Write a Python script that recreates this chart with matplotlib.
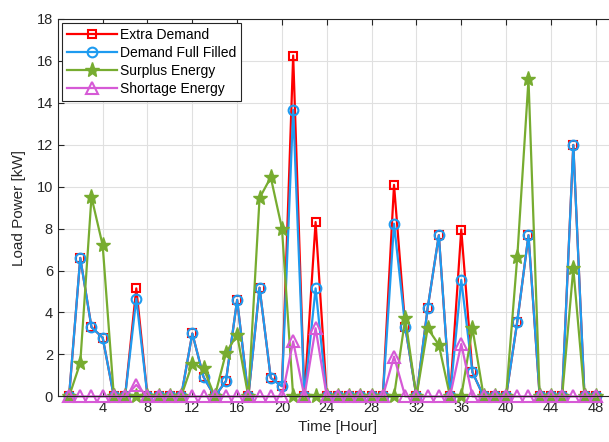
import numpy as np
import matplotlib
matplotlib.use("Agg")
import matplotlib.pyplot as plt

# ==========================================
# DATA
# ==========================================
hours = np.arange(1, 49)

extra_demand = [0, 6.6, 3.3, 2.8, 0, 0, 5.15, 0, 0, 0, 0, 3.0, 0.93, 0, 0.73, 4.6,
                0, 5.18, 0.88, 0.49, 16.24, 0, 8.31, 0, 0, 0, 0, 0, 0, 10.08, 3.33, 0,
                4.2, 7.68, 0, 7.95, 1.15, 0, 0, 0, 3.57, 7.68, 0, 0, 0, 11.98, 0, 0]
demand_filled = [0, 6.6, 3.3, 2.8, 0, 0, 4.66, 0, 0, 0, 0, 3.0, 0.93, 0, 0.73, 4.6,
                 0, 5.18, 0.88, 0.49, 13.65, 0, 5.15, 0, 0, 0, 0, 0, 0, 8.23, 3.33, 0,
                 4.2, 7.68, 0, 5.55, 1.15, 0, 0, 0, 3.57, 7.68, 0, 0, 0, 11.98, 0, 0]
surplus = [0, 1.6, 9.5, 7.2, 0, 0, 0, 0, 0, 0, 0, 1.56, 1.36, 0, 2.07, 2.94,
           0, 9.45, 10.44, 8.0, 0, 0, 0, 0, 0, 0, 0, 0, 0, 0, 3.73, 0,
           3.25, 2.46, 0, 0, 3.25, 0, 0, 0, 6.65, 15.1, 0, 0, 0, 6.1, 0, 0]
shortage = [0, 0, 0, 0, 0, 0, 0.55, 0, 0, 0, 0, 0, 0, 0, 0, 0,
            0, 0, 0, 0, 2.62, 0, 3.25, 0, 0, 0, 0, 0, 0, 1.9, 0, 0,
            0, 0, 0, 2.5, 0, 0, 0, 0, 0, 0, 0, 0, 0, 0, 0, 0]

x_ticks = list(range(4, 49, 4))
y_ticks = list(range(0, 19, 2))

# ==========================================
# PLOT
# ==========================================
plt.rcParams["font.family"] = ["Liberation Sans", "DejaVu Sans"]

fig = plt.figure(figsize=(6.09, 4.42), dpi=100)
ax = fig.add_axes([0.095, 0.103, 0.92, 0.855])

ax.plot(hours, extra_demand, color="#ff0000", lw=1.6, marker="s", ms=6,
        mfc="none", mew=1.5, label="Extra Demand", clip_on=False)
ax.plot(hours, demand_filled, color="#1e9bf0", lw=1.6, marker="o", ms=7,
        mfc="none", mew=1.5, label="Demand Full Filled", clip_on=False)
ax.plot(hours, surplus, color="#77ac30", lw=1.6, marker="*", ms=11,
        label="Surplus Energy", clip_on=False)
ax.plot(hours, shortage, color="#d65ad6", lw=1.6, marker="^", ms=8,
        mfc="none", mew=1.5, label="Shortage Energy", clip_on=False)

ax.set_xlim(0, 50)
ax.set_ylim(0, 18)
ax.set_xticks(x_ticks)
ax.set_yticks(y_ticks)
ax.tick_params(direction="in", top=True, right=True, labelsize=10.5, length=4,
               width=0.8, colors="#262626")
ax.grid(True, color="#e0e0e0", lw=0.8)
ax.set_axisbelow(True)
for s in ax.spines.values():
    s.set_color("#262626")
    s.set_linewidth(0.8)

ax.set_xlabel("Time [Hour]", fontsize=11, color="#262626", labelpad=3)
ax.set_ylabel("Load Power [kW]", fontsize=11, color="#262626", labelpad=8)

leg = ax.legend(loc="upper left", fontsize=10, labelspacing=0.3,
                handlelength=3.6, handletextpad=0.25, borderpad=0.35,
                borderaxespad=0.3, fancybox=False, framealpha=1,
                edgecolor="#262626")
leg.get_frame().set_linewidth(0.8)

fig.savefig("out.png", dpi=100)
